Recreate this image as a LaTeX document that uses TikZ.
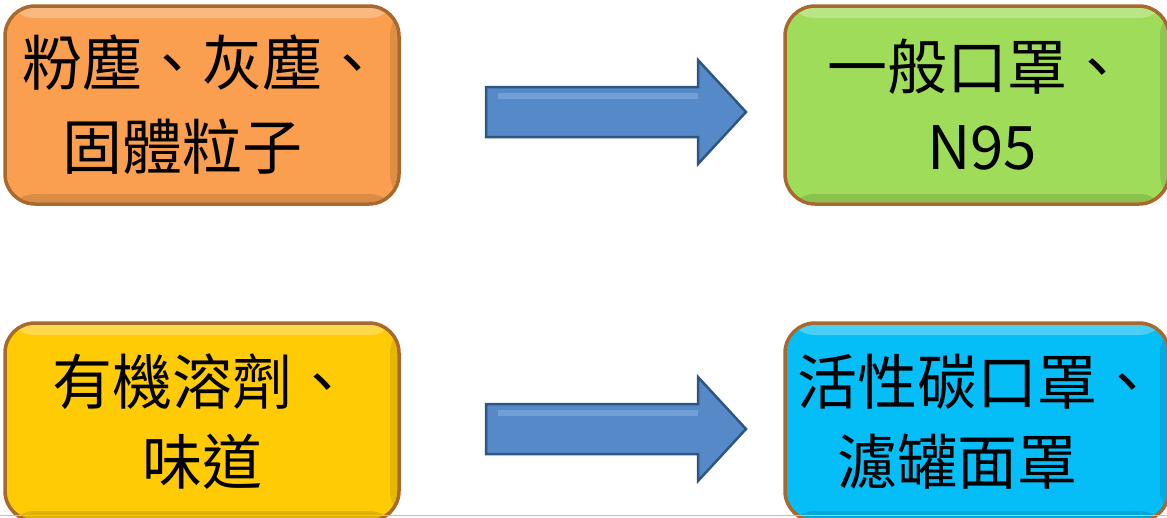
\documentclass[tikz,border=0pt]{standalone}
\usepackage{fontspec}
\newfontfamily\cjk{Noto Sans CJK TC}
\definecolor{boxedge}{HTML}{A8692F}
\definecolor{cOrange}{HTML}{F99F4F}
\definecolor{cGreen}{HTML}{9EDC5A}
\definecolor{cYellow}{HTML}{FFCB05}
\definecolor{cBlue}{HTML}{05BDF7}
\definecolor{arrFill}{HTML}{5689C8}
\definecolor{arrEdge}{HTML}{2F5682}
\definecolor{arrLight}{HTML}{86AEE0}
\tikzset{
  bevelbox/.style={draw=boxedge, line width=3.5pt, rounded corners=30pt,
    minimum width=394pt, minimum height=198pt, inner sep=0pt,
    font=\cjk\fontsize{60}{80}\selectfont, align=center, text=black,
    path picture={
      \fill[white,opacity=0.28] ([yshift=-2pt]path picture bounding box.north west) rectangle ([yshift=-12pt]path picture bounding box.north east);
      \fill[black,opacity=0.12] ([yshift=2pt]path picture bounding box.south west) rectangle ([yshift=10pt]path picture bounding box.south east);
      \fill[black,opacity=0.10] ([xshift=-2pt]path picture bounding box.north east) rectangle ([xshift=-9pt]path picture bounding box.south east);
    }},
  blockarrow/.style={fill=arrFill, draw=arrEdge, line width=2.5pt, line join=miter}
}
\begin{document}
\begin{tikzpicture}[x=1pt,y=-1pt]
\useasboundingbox (0,0) rectangle (1167,517);
\begin{scope}
\clip (0,0) rectangle (1167,517);
\node[bevelbox, fill=cOrange] (b1) at (202,105) {粉塵、灰塵、\\[4pt]\hspace*{-40pt}固體粒子};
\node[bevelbox, fill=cGreen, minimum width=384pt] (b2) at (977,105) {一般口罩、\\\hspace*{10pt}N95};
\node[bevelbox, fill=cYellow] (b3) at (202,422) {有機溶劑、\\味道};
\node[bevelbox, fill=cBlue, minimum width=384pt] (b4) at (977,422) {活性碳口罩、\\\hspace*{-40pt}濾罐面罩};
\draw[gray!50, line width=1pt] (0,515) -- (1167,515);
\end{scope}
% block arrows
\coordinate (a1s) at (486,112);
\coordinate (a2s) at (486,429);
\foreach \s in {a1s,a2s}{
  \draw[blockarrow] (\s) ++(0,-25) -- ++(212,0) -- ++(0,-27) -- ++(48,52) -- ++(-48,52) -- ++(0,-27) -- ++(-212,0) -- cycle;
  \fill[arrLight, opacity=0.6] (\s) ++(12,-19) -- ++(200,0) -- ++(0,6) -- ++(-200,0) -- cycle;
}
\end{tikzpicture}
\end{document}
